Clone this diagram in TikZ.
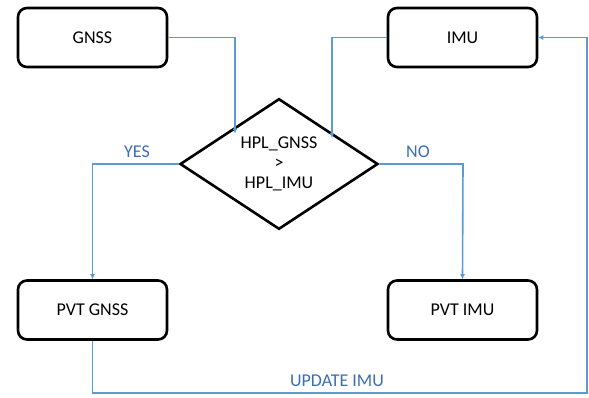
\documentclass[tikz,border=0pt]{standalone}
\usepackage{fontspec}
\setmainfont{Carlito}
\usetikzlibrary{shapes.geometric,arrows.meta}
\definecolor{lineblue}{RGB}{91,155,213}
\definecolor{textblue}{RGB}{60,110,180}
\begin{document}
\begin{tikzpicture}[x=1pt,y=-1pt,
  box/.style={draw=black,line width=2.6pt,rounded corners=9pt,minimum width=149pt,minimum height=59pt,inner sep=0pt,font=\fontsize{18}{21}\selectfont},
  dec/.style={draw=black,line width=2.6pt,diamond,minimum width=198pt,minimum height=104pt,inner sep=0pt,align=center,font=\fontsize{18}{21}\selectfont},
  conn/.style={draw=lineblue,line width=1.6pt,-{Latex[length=5pt,width=5pt]}},
  lbl/.style={text=textblue,font=\fontsize{18}{21}\selectfont}]
\useasboundingbox (0,0) rectangle (589,397);
\node[box] (gnss) at (92.5,37.5) {GNSS};
\node[box] (imu) at (462.5,37.5) {IMU};
\node[box] (pvtg) at (92.5,310) {PVT GNSS};
\node[box] (pvti) at (462.5,310) {PVT IMU};
\node[dec] (d) at (279,164) {HPL\_GNSS\\[-1pt]>\\[-1pt]HPL\_IMU};
\coordinate (g1) at (235,37.5);
\coordinate (g2) at (235,133.5);
\coordinate (i1) at (332,37.5);
\coordinate (i2) at (332,138);
\coordinate (y1) at (92.5,164);
\coordinate (n1) at (463,164);
\coordinate (u1) at (92.5,393);
\coordinate (u2) at (587,393);
\coordinate (u3) at (587,37.5);
\draw[conn] (gnss.east) -- (g1) -- (g2);
\draw[conn] (imu.west) -- (i1) -- (i2);
\draw[conn] (d.west) -- (y1) -- (pvtg.north);
\draw[conn] (d.east) -- (n1) -- (pvti.north);
\draw[conn] (pvtg.south) -- (u1) -- (u2) -- (u3) -- (imu.east);
\node[lbl] (yes) at (137,152) {YES};
\node[lbl] (no) at (418,152) {NO};
\node[lbl] (upd) at (337,381) {UPDATE IMU};
\end{tikzpicture}
\end{document}
